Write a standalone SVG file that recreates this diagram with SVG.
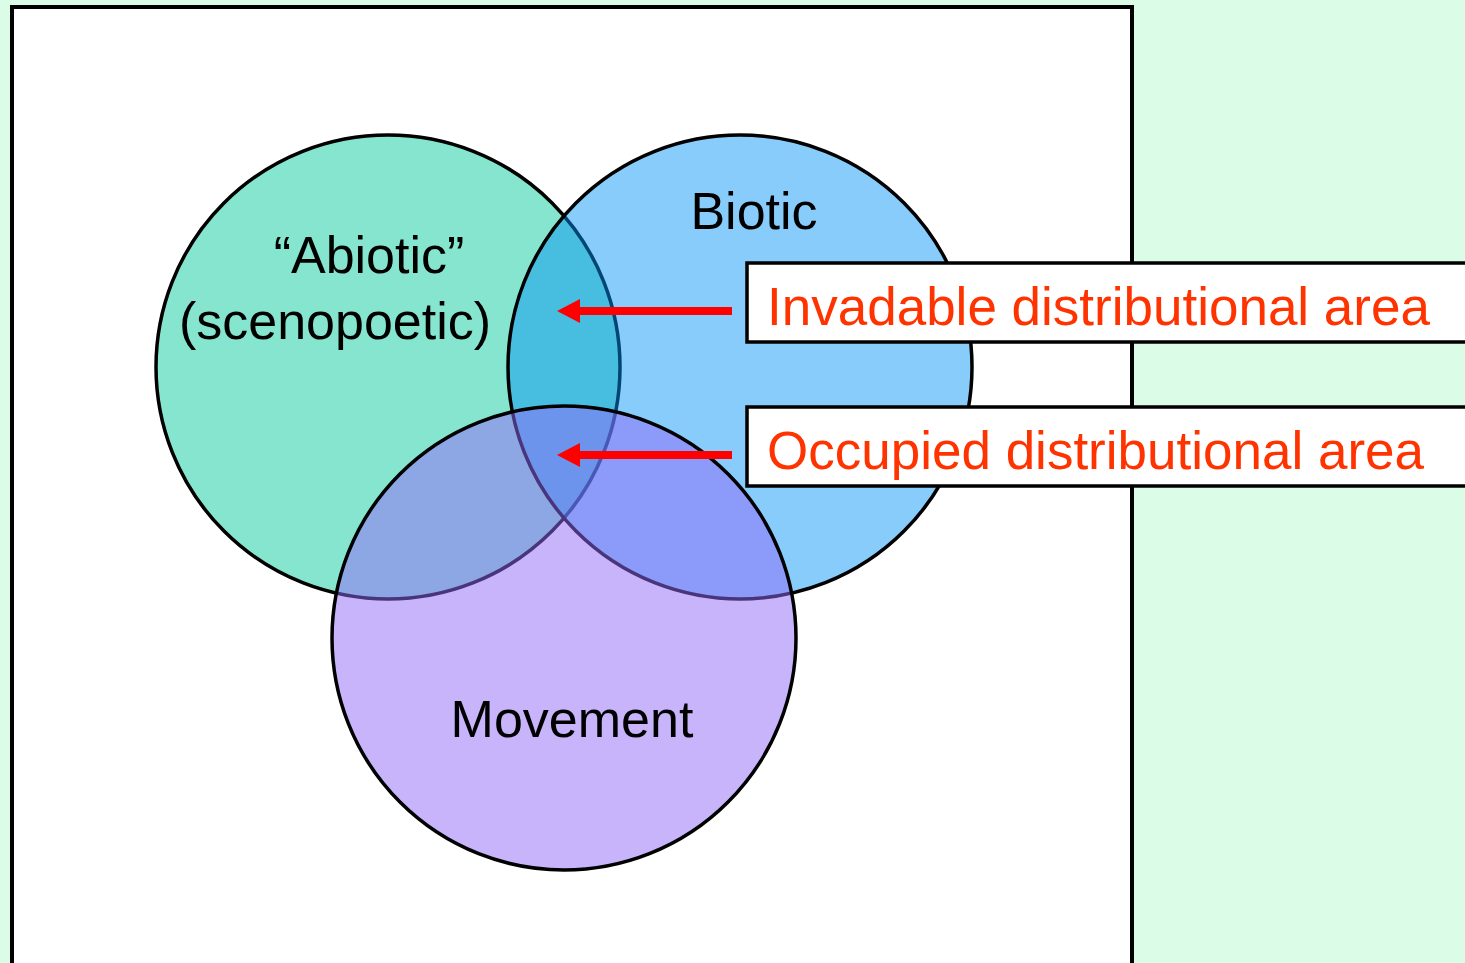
<svg xmlns="http://www.w3.org/2000/svg" width="1465" height="963" viewBox="0 0 1465 963">
<defs>
<style>
.circ{stroke:#000;stroke-width:3.5}
.lbl{font-family:"Liberation Sans",Arial,sans-serif;font-size:52px;fill:#000;text-anchor:middle}
.red{font-family:"Liberation Sans",Arial,sans-serif;font-size:53px;fill:#FF3300}
.box{fill:#fff;stroke:#000;stroke-width:3.5}
.arr{stroke:#FF0000;stroke-width:8;fill:none}
</style>
<marker id="ah" markerUnits="userSpaceOnUse" markerWidth="24" markerHeight="24" refX="0" refY="12" orient="auto" viewBox="0 0 24 24">
<path d="M0,0 L23,12 L0,24 Z" fill="#FF0000"/>
</marker>
</defs>
<rect x="0" y="0" width="1465" height="963" fill="#DBFCE6"/>
<rect x="12" y="7" width="1120" height="970" fill="#fff" stroke="#000" stroke-width="4"/>
<g id="abiotic">
<circle class="circ" cx="388" cy="367" r="232" fill="#86E5CF"/>
<text class="lbl" x="369" y="273">“Abiotic”</text>
<text class="lbl" x="335" y="339">(scenopoetic)</text>
</g>
<g id="biotic">
<circle class="circ" cx="740" cy="367" r="232" fill="rgb(0,147,244)" fill-opacity="0.47"/>
<text class="lbl" x="754" y="229">Biotic</text>
</g>
<g id="movement">
<circle class="circ" cx="564" cy="638" r="232" fill="rgb(145,105,247)" fill-opacity="0.5"/>
<text class="lbl" x="572" y="737">Movement</text>
</g>
<g id="invadable">
<rect class="box" x="747" y="263" width="730" height="79"/>
<text class="red" x="767" y="325">Invadable distributional area</text>
</g>
<g id="occupied">
<rect class="box" x="747" y="407" width="730" height="79"/>
<text class="red" x="767" y="469">Occupied distributional area</text>
</g>
<g id="connectors">
<line class="arr" x1="732" y1="311" x2="580" y2="311" marker-end="url(#ah)"/>
<line class="arr" x1="732" y1="455" x2="580" y2="455" marker-end="url(#ah)"/>
</g>
</svg>
